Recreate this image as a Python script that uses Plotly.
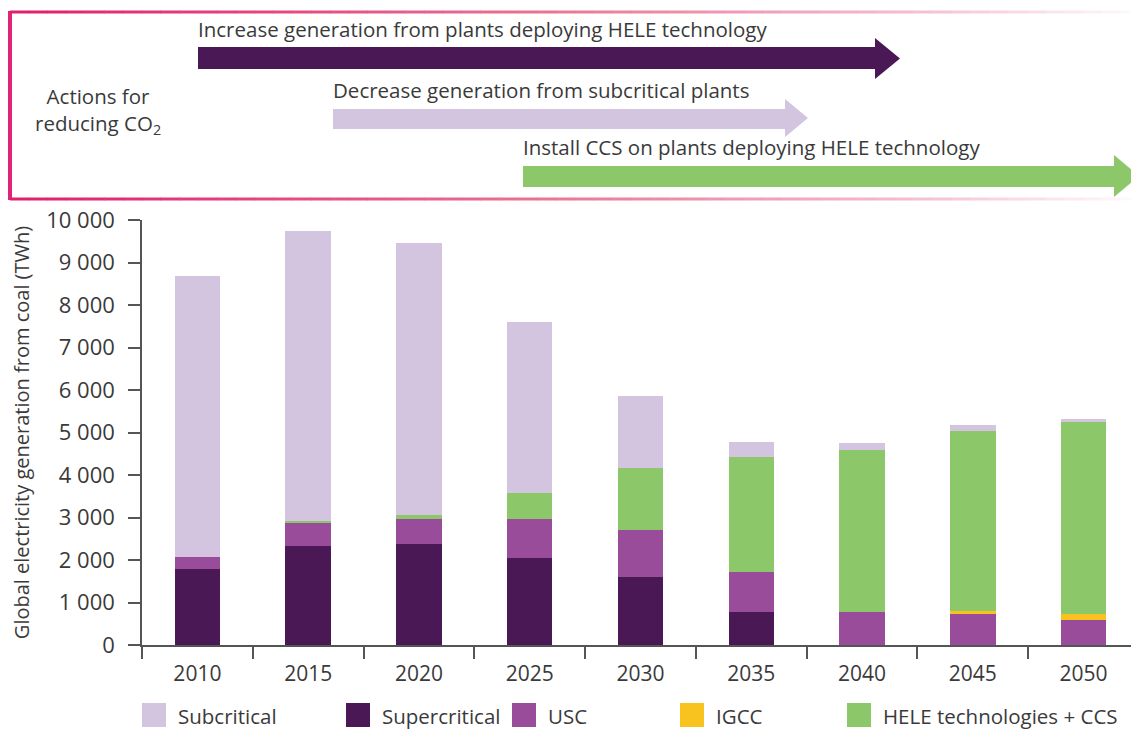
import plotly.graph_objects as go

# ---------------- data ----------------
years = ["2010", "2015", "2020", "2025", "2030", "2035", "2040", "2045", "2050"]
supercritical = [1790, 2340, 2375, 2040, 1590, 770, 0, 0, 0]
usc = [290, 525, 580, 920, 1110, 950, 770, 740, 580]
igcc = [0, 0, 0, 0, 0, 0, 0, 70, 155]
hele_ccs = [0, 60, 100, 620, 1465, 2705, 3820, 4235, 4535]
subcritical = [6610, 6815, 6415, 4020, 1700, 360, 165, 135, 40]

y_ticks = [0, 1000, 2000, 3000, 4000, 5000, 6000, 7000, 8000, 9000, 10000]

series_names = ["Subcritical", "Supercritical", "USC", "IGCC", "HELE technologies + CCS"]
action_texts = [
    "Increase generation from plants deploying HELE technology",
    "Decrease generation from subcritical plants",
    "Install CCS on plants deploying HELE technology",
]

# ---------------- styling ----------------
C_SUB = "#D3C4DF"
C_SUP = "#4A1855"
C_USC = "#994C9A"
C_IGCC = "#F9C31F"
C_CCS = "#8CC76A"
TXT = "#3a3a3a"
AX = "#555555"
FONT = "Open Sans"

OFF = 8  # page body margin in the browser
W, H = 1139 - OFF, 733 - OFF
# plot area in screen pixels
SL, SR, ST, SB = 142, 1139, 220, 645


def px(x):
    return (x - SL) / (SR - SL)


def py(y):
    return (SB - y) / (SB - ST)


fig = go.Figure()

stack = [
    (series_names[1], supercritical, C_SUP),
    (series_names[2], usc, C_USC),
    (series_names[3], igcc, C_IGCC),
    (series_names[4], hele_ccs, C_CCS),
    (series_names[0], subcritical, C_SUB),
]
for name, vals, col in stack:
    fig.add_trace(go.Bar(x=years, y=vals, name=name, marker=dict(color=col, line=dict(width=0)),
                         showlegend=False))

shapes = []
annotations = []

# ---- action box ----
shapes.append(dict(type="line", xref="paper", yref="paper", x0=px(10), x1=px(10), y0=py(11), y1=py(200),
                   line=dict(color="#E2237A", width=4)))


def grad(t):
    stops = [(0.0, (224, 30, 110)), (0.45, (232, 110, 145)), (0.8, (245, 190, 205)), (1.0, (255, 250, 252))]
    for (t0, c0), (t1, c1) in zip(stops[:-1], stops[1:]):
        if t0 <= t <= t1:
            f = (t - t0) / (t1 - t0)
            c = [round(a + (b - a) * f) for a, b in zip(c0, c1)]
            return "rgb(%d,%d,%d)" % tuple(c)
    return "rgb(255,255,255)"


nseg = 60
x_start, x_end = 10, 1139
for i in range(nseg):
    xa = x_start + (x_end - x_start) * i / nseg
    xb = x_start + (x_end - x_start) * (i + 1) / nseg
    col = grad((i + 0.5) / nseg)
    for yy in (12, 199):
        shapes.append(dict(type="line", xref="paper", yref="paper", x0=px(xa), x1=px(xb + 0.5),
                           y0=py(yy), y1=py(yy), line=dict(color=col, width=3)))


def arrow(x0, x1, xtip, yb0, yb1, yh0, yh1, col):
    ym = (yh0 + yh1) / 2
    pts = [(x0, yb0), (x1, yb0), (x1, yh0), (xtip, ym), (x1, yh1), (x1, yb1), (x0, yb1)]
    path = "M" + " L".join("%f,%f" % (px(a), py(b)) for a, b in pts) + " Z"
    return dict(type="path", xref="paper", yref="paper", path=path, fillcolor=col, line=dict(width=0))


shapes.append(arrow(198, 875, 900, 47, 69, 38, 79, C_SUP))
shapes.append(arrow(333, 785, 808, 109, 129, 99, 137, C_SUB))
shapes.append(arrow(523, 1114, 1139, 166, 187, 155, 197, C_CCS))

box_txt = [
    dict(text=action_texts[0], x=px(196), y=py(29), xanchor="left", yanchor="middle"),
    dict(text=action_texts[1], x=px(331), y=py(90), xanchor="left", yanchor="middle"),
    dict(text=action_texts[2], x=px(521), y=py(147), xanchor="left", yanchor="middle"),
    dict(text="Actions for<br>reducing CO<sub>2</sub>", x=px(98), y=py(110), xanchor="center", yanchor="middle"),
]
for a in box_txt:
    a.update(xref="paper", yref="paper", showarrow=False, font=dict(family=FONT, size=20.5, color=TXT))
    annotations.append(a)

# ---- legend (swatches + labels) ----
legend_colors = [C_SUB, C_SUP, C_USC, C_IGCC, C_CCS]
sw_x = [142, 346, 512, 680, 847]
for name, col, sx in zip(series_names, legend_colors, sw_x):
    shapes.append(dict(type="rect", xref="paper", yref="paper", x0=px(sx), x1=px(sx + 24),
                       y0=py(727), y1=py(703), fillcolor=col, line=dict(width=0)))
    annotations.append(dict(text=name, xref="paper", yref="paper", x=px(sx + 34), y=py(716),
                            xanchor="left", yanchor="middle", showarrow=False,
                            font=dict(family=FONT, size=20.5, color=TXT)))

fig.update_layout(
    width=W, height=H,
    margin=dict(l=SL - OFF, r=1139 - SR, t=ST - OFF, b=733 - SB, pad=0),
    paper_bgcolor="white", plot_bgcolor="white",
    barmode="stack", bargap=0.59,
    separators=". ",
    font=dict(family=FONT, size=19, color=TXT),
    shapes=shapes, annotations=annotations,
    showlegend=False,
)
fig.update_xaxes(type="category", showline=True, linecolor=AX, linewidth=1.5, ticks="outside",
                 tickson="boundaries", ticklen=12, tickcolor=AX, tickwidth=1.5, showgrid=False,
                 ticklabelstandoff=9, tickfont=dict(family=FONT, size=21, color=TXT))
fig.update_yaxes(range=[0, 10000], tickvals=y_ticks, tickformat=",d", showline=True, linecolor=AX,
                 linewidth=1.5, ticks="outside", ticklen=12, tickcolor=AX, tickwidth=1.5, showgrid=False,
                 zeroline=False, ticklabelstandoff=9, tickfont=dict(family=FONT, size=22, color=TXT),
                 title=dict(text="Global electricity generation from coal (TWh)", standoff=25,
                            font=dict(family=FONT, size=20, color=TXT)))

fig.write_html("out.html")
